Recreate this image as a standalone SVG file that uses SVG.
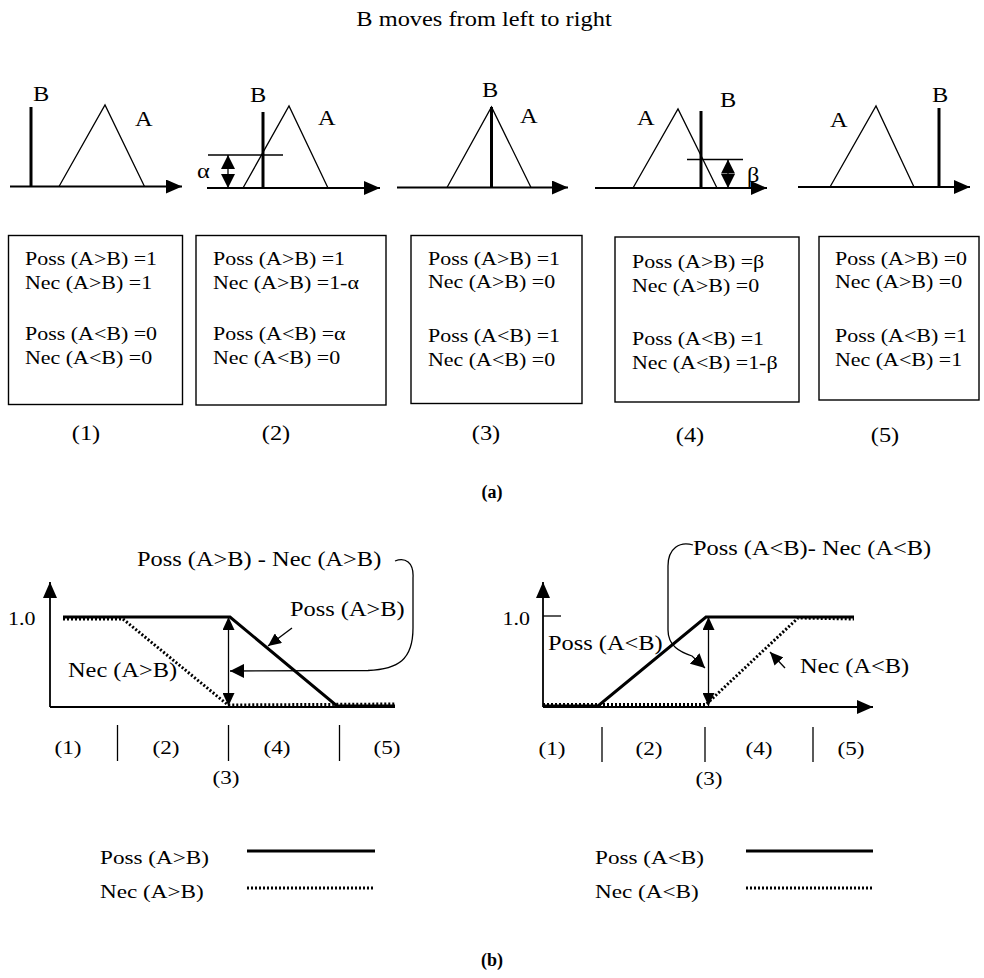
<svg xmlns="http://www.w3.org/2000/svg" width="984" height="978" viewBox="0 0 984 978">
  <style>
    .t { font-family: "Liberation Serif", "Times New Roman", serif; fill: #000; }
    .f18 { font-size: 18px; }
    .f19 { font-size: 19px; }
    .f20 { font-size: 20px; }
    .bold { font-weight: bold; font-size: 18px; }
    .mid { text-anchor: middle; }
    .end { text-anchor: end; }
    .thin { stroke: #000; stroke-width: 1.3; fill: none; }
    .axis { stroke: #000; stroke-width: 1.8; fill: none; }
    .thick { stroke: #000; stroke-width: 3; fill: none; }
    .dots { stroke: #000; stroke-width: 3; fill: none; stroke-dasharray: 2 2; }
    .box { stroke: #000; stroke-width: 1.4; fill: #fff; }
  </style>
  <defs>
    <marker id="ah" markerUnits="userSpaceOnUse" markerWidth="16" markerHeight="14" refX="16" refY="7" orient="auto">
      <path d="M0,0 L16,7 L0,14 z" fill="#000"/>
    </marker>
    <marker id="ah2" markerUnits="userSpaceOnUse" markerWidth="14" markerHeight="14" refX="14" refY="7" orient="auto-start-reverse">
      <path d="M0,0 L14,7 L0,14 z" fill="#000"/>
    </marker>
    <marker id="ah3" markerUnits="userSpaceOnUse" markerWidth="13" markerHeight="12" refX="13" refY="6" orient="auto-start-reverse">
      <path d="M0,0 L13,6 L0,12 z" fill="#000"/>
    </marker>
  </defs>

  <rect width="984" height="978" fill="#fff"/>

  <text class="t f20 mid" transform="translate(484,26) scale(1.22,1)">B moves from left to right</text>

  <!-- (a) five positions of B relative to the triangular fuzzy number A -->
  <g id="panel1">
    <line class="axis" x1="10" y1="186.5" x2="182" y2="186.5" marker-end="url(#ah)"/>
    <polyline class="thin" points="59,186.5 105,105 144.5,186.5"/>
    <line class="thick" x1="31" y1="107" x2="31" y2="186.5"/>
    <text class="t f20" transform="translate(33,101) scale(1.22,1)">B</text>
    <text class="t f20" transform="translate(135,126) scale(1.22,1)">A</text>
  </g>
  <g id="panel2">
    <line class="axis" x1="207" y1="188" x2="380" y2="188" marker-end="url(#ah)"/>
    <polyline class="thin" points="243,188 289,106 328,188"/>
    <line class="thick" x1="263" y1="112" x2="263" y2="188"/>
    <line class="thin" x1="208" y1="155" x2="283" y2="155"/>
    <line class="thin" x1="228" y1="155" x2="228" y2="188" marker-start="url(#ah2)" marker-end="url(#ah2)"/>
    <text class="t f20" transform="translate(197,178) scale(1.22,1)">α</text>
    <text class="t f20" transform="translate(250,102) scale(1.22,1)">B</text>
    <text class="t f20" transform="translate(318,125) scale(1.22,1)">A</text>
  </g>
  <g id="panel3">
    <line class="axis" x1="397" y1="187.5" x2="568" y2="187.5" marker-end="url(#ah)"/>
    <polyline class="thin" points="447,187.5 491.5,107 531,187.5"/>
    <line class="thick" x1="491.5" y1="107" x2="491.5" y2="187.5"/>
    <text class="t f20" transform="translate(482,97) scale(1.22,1)">B</text>
    <text class="t f20" transform="translate(520,123) scale(1.22,1)">A</text>
  </g>
  <g id="panel4">
    <line class="axis" x1="595" y1="188" x2="767" y2="188" marker-end="url(#ah)"/>
    <polyline class="thin" points="633,188 678,109 717,188"/>
    <line class="thick" x1="701" y1="111" x2="701" y2="188"/>
    <line class="thin" x1="687" y1="159.5" x2="743" y2="159.5"/>
    <line class="thin" x1="728" y1="159.5" x2="728" y2="188" marker-start="url(#ah2)" marker-end="url(#ah2)"/>
    <text class="t f20" transform="translate(747,182) scale(1.22,1)">β</text>
    <text class="t f20" transform="translate(720,107) scale(1.22,1)">B</text>
    <text class="t f20" transform="translate(637,125) scale(1.22,1)">A</text>
  </g>
  <g id="panel5">
    <line class="axis" x1="798" y1="187" x2="970" y2="187" marker-end="url(#ah)"/>
    <polyline class="thin" points="830,187 876,106 914,187"/>
    <line class="thick" x1="939" y1="108" x2="939" y2="187"/>
    <text class="t f20" transform="translate(932,102) scale(1.22,1)">B</text>
    <text class="t f20" transform="translate(830,127) scale(1.22,1)">A</text>
  </g>

  <!-- value boxes -->
  <g id="box1">
    <rect class="box" x="8.5" y="235.5" width="174" height="169"/>
    <text class="t f18" transform="translate(25,265) scale(1.22,1)">Poss (A&gt;B) =1</text>
    <text class="t f18" transform="translate(25,289) scale(1.22,1)">Nec (A&gt;B) =1</text>
    <text class="t f18" transform="translate(25,340) scale(1.22,1)">Poss (A&lt;B) =0</text>
    <text class="t f18" transform="translate(25,364) scale(1.22,1)">Nec (A&lt;B) =0</text>
    <text class="t f20 mid" transform="translate(86,440) scale(1.22,1)">(1)</text>
  </g>
  <g id="box2">
    <rect class="box" x="196" y="235.5" width="190" height="169.5"/>
    <text class="t f18" transform="translate(213,265) scale(1.22,1)">Poss (A&gt;B) =1</text>
    <text class="t f18" transform="translate(213,289) scale(1.22,1)">Nec (A&gt;B) =1-α</text>
    <text class="t f18" transform="translate(213,340) scale(1.22,1)">Poss (A&lt;B) =α</text>
    <text class="t f18" transform="translate(213,364) scale(1.22,1)">Nec (A&lt;B) =0</text>
    <text class="t f20 mid" transform="translate(276,440) scale(1.22,1)">(2)</text>
  </g>
  <g id="box3">
    <rect class="box" x="411" y="235.5" width="171" height="168"/>
    <text class="t f18" transform="translate(428,265) scale(1.22,1)">Poss (A&gt;B) =1</text>
    <text class="t f18" transform="translate(428,288) scale(1.22,1)">Nec (A&gt;B) =0</text>
    <text class="t f18" transform="translate(428,342) scale(1.22,1)">Poss (A&lt;B) =1</text>
    <text class="t f18" transform="translate(428,366) scale(1.22,1)">Nec (A&lt;B) =0</text>
    <text class="t f20 mid" transform="translate(486,440) scale(1.22,1)">(3)</text>
  </g>
  <g id="box4">
    <rect class="box" x="615" y="237" width="184" height="165"/>
    <text class="t f18" transform="translate(632,268) scale(1.22,1)">Poss (A&gt;B) =β</text>
    <text class="t f18" transform="translate(632,292) scale(1.22,1)">Nec (A&gt;B) =0</text>
    <text class="t f18" transform="translate(632,345) scale(1.22,1)">Poss (A&lt;B) =1</text>
    <text class="t f18" transform="translate(632,369) scale(1.22,1)">Nec (A&lt;B) =1-β</text>
    <text class="t f20 mid" transform="translate(690,442) scale(1.22,1)">(4)</text>
  </g>
  <g id="box5">
    <rect class="box" x="819" y="236.5" width="160" height="163.5"/>
    <text class="t f18" transform="translate(835,265) scale(1.22,1)">Poss (A&gt;B) =0</text>
    <text class="t f18" transform="translate(835,288) scale(1.22,1)">Nec (A&gt;B) =0</text>
    <text class="t f18" transform="translate(835,342) scale(1.22,1)">Poss (A&lt;B) =1</text>
    <text class="t f18" transform="translate(835,366) scale(1.22,1)">Nec (A&lt;B) =1</text>
    <text class="t f20 mid" transform="translate(885,442) scale(1.22,1)">(5)</text>
  </g>

  <text class="t bold mid" x="492" y="498">(a)</text>

  <!-- (b) left chart: A>B -->
  <g id="chartLeft">
    <line class="axis" x1="50" y1="707" x2="50" y2="582" marker-end="url(#ah)"/>
    <line class="axis" x1="50" y1="707" x2="395" y2="707"/>
    <polyline class="thick" points="63,617 230,617 337,706 395,706"/>
    <polyline class="dots" points="63,619 123,619 228,705 395,704"/>
    <line class="thin" x1="228.5" y1="617" x2="228.5" y2="706" marker-start="url(#ah3)" marker-end="url(#ah3)"/>
    <line class="thin" x1="292" y1="628" x2="268" y2="646" marker-end="url(#ah3)"/>
    <path class="thin" d="M395,561 C405,557 414,562 413,578 L413,628 C413,660 398,669 368,670.5 L230,671" marker-end="url(#ah2)"/>
    <line class="thin" x1="117.5" y1="725" x2="117.5" y2="761"/>
    <line class="thin" x1="228.5" y1="725" x2="228.5" y2="761"/>
    <line class="thin" x1="339.5" y1="725" x2="339.5" y2="761"/>
    <text class="t f18" transform="translate(8,625) scale(1.22,1)">1.0</text>
    <text class="t f20" transform="translate(137,566) scale(1.22,1)">Poss (A&gt;B) - Nec (A&gt;B)</text>
    <text class="t f20" transform="translate(290,616) scale(1.22,1)">Poss (A&gt;B)</text>
    <text class="t f20" transform="translate(68,677) scale(1.22,1)">Nec (A&gt;B)</text>
    <text class="t f19 mid" transform="translate(68,754) scale(1.22,1)">(1)</text>
    <text class="t f19 mid" transform="translate(166,754) scale(1.22,1)">(2)</text>
    <text class="t f19 mid" transform="translate(277,754) scale(1.22,1)">(4)</text>
    <text class="t f19 mid" transform="translate(387,754) scale(1.22,1)">(5)</text>
    <text class="t f19 mid" transform="translate(226,784) scale(1.22,1)">(3)</text>
  </g>

  <!-- (b) right chart: A<B -->
  <g id="chartRight">
    <line class="axis" x1="543" y1="707" x2="543" y2="582" marker-end="url(#ah)"/>
    <line class="axis" x1="543" y1="707" x2="873" y2="707" marker-end="url(#ah)"/>
    <line class="thin" x1="543" y1="616" x2="561" y2="616"/>
    <polyline class="thick" points="543,706 598,706 706,617 854,617"/>
    <polyline class="dots" points="543,704.5 706,704.5 798,618 854,619"/>
    <line class="thin" x1="708.5" y1="617" x2="708.5" y2="706" marker-start="url(#ah3)" marker-end="url(#ah3)"/>
    <line class="thin" x1="785" y1="668" x2="770" y2="652" marker-end="url(#ah3)"/>
    <path class="thin" d="M693,545 C680,541 668,548 668,566 L668,630 C668,646 680,652 692,656 L705,668" marker-end="url(#ah2)"/>
    <line class="thin" x1="602" y1="727" x2="602" y2="762"/>
    <line class="thin" x1="705" y1="727" x2="705" y2="762"/>
    <line class="thin" x1="813" y1="727" x2="813" y2="762"/>
    <text class="t f18 end" transform="translate(530,625) scale(1.22,1)">1.0</text>
    <text class="t f20" transform="translate(693,555) scale(1.22,1)">Poss (A&lt;B)- Nec (A&lt;B)</text>
    <text class="t f20" transform="translate(548,650) scale(1.22,1)">Poss (A&lt;B)</text>
    <text class="t f20" transform="translate(800,673) scale(1.22,1)">Nec (A&lt;B)</text>
    <text class="t f19 mid" transform="translate(552,755) scale(1.22,1)">(1)</text>
    <text class="t f19 mid" transform="translate(649,755) scale(1.22,1)">(2)</text>
    <text class="t f19 mid" transform="translate(759,755) scale(1.22,1)">(4)</text>
    <text class="t f19 mid" transform="translate(851,755) scale(1.22,1)">(5)</text>
    <text class="t f19 mid" transform="translate(709,785) scale(1.22,1)">(3)</text>
  </g>

  <!-- legends -->
  <g id="legendLeft">
    <text class="t f19" transform="translate(100,864) scale(1.22,1)">Poss (A&gt;B)</text>
    <line class="thick" x1="247" y1="851" x2="375" y2="851"/>
    <text class="t f19" transform="translate(100,898) scale(1.22,1)">Nec (A&gt;B)</text>
    <line class="dots" x1="247" y1="888" x2="375" y2="888"/>
  </g>
  <g id="legendRight">
    <text class="t f19" transform="translate(595,864) scale(1.22,1)">Poss (A&lt;B)</text>
    <line class="thick" x1="746" y1="851" x2="873" y2="851"/>
    <text class="t f19" transform="translate(595,898) scale(1.22,1)">Nec (A&lt;B)</text>
    <line class="dots" x1="746" y1="888" x2="873" y2="888"/>
  </g>

  <text class="t bold mid" x="492" y="966">(b)</text>
</svg>
